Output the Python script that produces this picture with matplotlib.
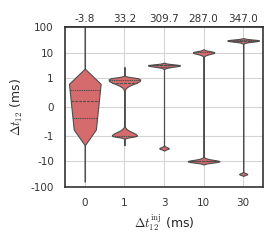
import numpy as np
import pandas as pd
import matplotlib
matplotlib.use("Agg")
import matplotlib.pyplot as plt
from matplotlib.ticker import NullLocator
import seaborn as sns

categories = ["0", "1", "3", "10", "30"]
top_labels = ["-3.8", "33.2", "309.7", "287.0", "347.0"]
y_ticks = [-100, -10, -1, 0, 1, 10, 100]
y_tick_labels = ["-100", "-10", "-1", "0", "1", "10", "100"]

# measured delays (ms) and how often each one shows up, per injected delay
dt0_values = [-60.8, -1.0, -0.9, -0.8, -0.7, -0.6, -0.5, -0.4, -0.3, -0.2, -0.1,
              0.0, 0.1, 0.2, 0.3, 0.4, 0.5, 0.6, 0.7, 0.8, 0.9, 1.0, 1.1, 96.0]
dt0_counts = [1, 18, 36, 36, 45, 36, 45, 36, 36, 36, 36,
              45, 45, 54, 54, 63, 63, 54, 54, 54, 45, 36, 18, 1]

dt1_values = [-2.2, -1.2, -1.15, -1.1, -1.05, -1.0, -0.95, -0.9, -0.85,
              0.75, 0.8, 0.85, 0.9, 0.95, 1.0, 1.05, 1.1, 1.15, 2.6]
dt1_counts = [1, 1, 2, 6, 13, 19, 13, 6, 2,
              2, 5, 10, 16, 20, 18, 8, 3, 1, 1]

dt3_values = [-3.3, -3.1, -2.9, 2.8, 3.0, 3.2, 3.4, 3.6]
dt3_counts = [3, 6, 2, 3, 10, 16, 10, 3]

dt10_values = [-11.2, -10.6, -10.0, -9.4, -8.8, 8.8, 9.5, 10.2, 10.9, 11.6]
dt10_counts = [3, 7, 11, 7, 3, 2, 5, 8, 5, 2]

dt30_values = [-32.0, -31.0, 27.5, 29.0, 30.5, 32.0]
dt30_counts = [2, 3, 3, 8, 8, 3]

fill_color = "#d66b6e"

values = [dt0_values, dt1_values, dt3_values, dt10_values, dt30_values]
counts = [dt0_counts, dt1_counts, dt3_counts, dt10_counts, dt30_counts]
frames = []
for cat, v, c in zip(categories, values, counts):
    dt = np.repeat(v, c)
    frames.append(pd.DataFrame({"inj": cat, "dt": dt}))
df = pd.concat(frames, ignore_index=True)

sns.set_style("whitegrid", {"grid.color": ".83", "axes.edgecolor": ".2"})
plt.rcParams["font.family"] = ["DejaVu Sans"]
plt.rcParams["mathtext.fontset"] = "cm"

fig = plt.figure(figsize=(2.74, 2.44), dpi=100)
ax = fig.add_axes([65 / 274, 1 - 187 / 244, 198 / 274, 160 / 244])

sns.violinplot(data=df, x="inj", y="dt", order=categories, color=fill_color,
               saturation=1, bw_method=0.1, cut=2, density_norm="width",
               inner="quart", linewidth=0.8, linecolor="#4d4d4d", width=0.8, ax=ax)

ax.set_yscale("symlog", linthresh=1, linscale=1)
ax.set_ylim(-100, 100)
ax.set_yticks(y_ticks, y_tick_labels)
ax.yaxis.set_minor_locator(NullLocator())
ax.set_xlim(-0.5, 4.5)
ax.xaxis.grid(True)
ax.yaxis.grid(True)
ax.tick_params(length=0, labelsize=7.5, pad=8, colors="#333333")
for s in ax.spines.values():
    s.set_linewidth(1.2)
    s.set_color("#333333")

sec = ax.secondary_xaxis("top")
sec.set_xticks(range(len(categories)), top_labels)
sec.tick_params(length=0, labelsize=7.5, pad=2.5, colors="#333333")
sec.spines["top"].set_linewidth(1.2)
sec.spines["top"].set_color("#333333")

ax.set_xlabel(r"$\Delta t_{12}^{\mathrm{inj}}$ (ms)", fontsize=9, labelpad=3)
ax.set_ylabel(r"$\Delta t_{12}$ (ms)", fontsize=9, labelpad=4)

fig.savefig("out.png", dpi=100)
